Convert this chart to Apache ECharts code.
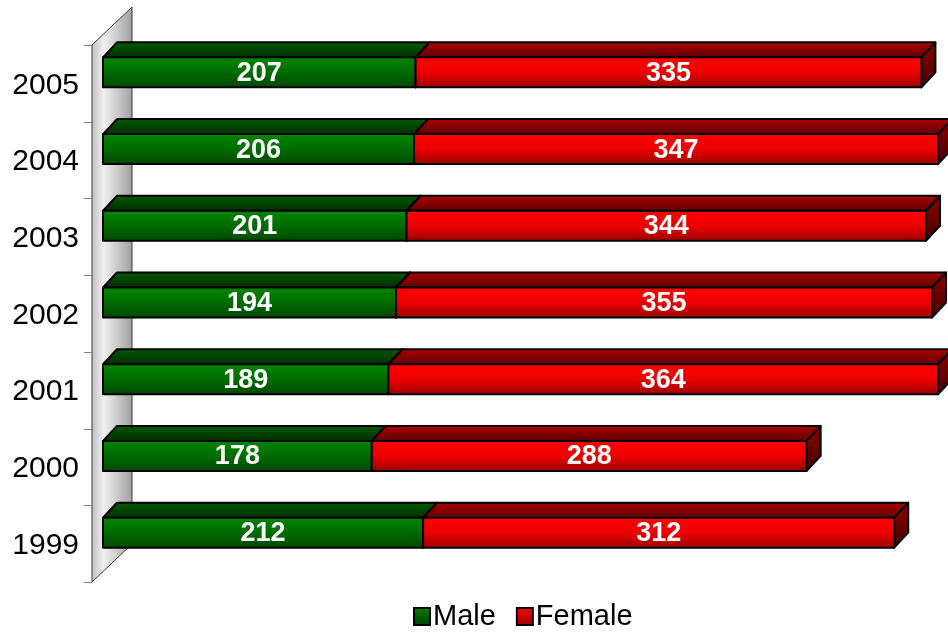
<!DOCTYPE html>
<html>
<head>
<meta charset="utf-8">
<script src="https://cdn.jsdelivr.net/npm/echarts@6/dist/echarts.min.js"></script>
<style>
  html,body{margin:0;padding:0;background:#fff}
  #chart{width:948px;height:633px}
</style>
</head>
<body>
<div id="chart"></div>
<script>
// values
const years = ['1999', '2000', '2001', '2002', '2003', '2004', '2005']
const male = [212, 178, 189, 194, 201, 206, 207]
const female = [312, 288, 364, 355, 344, 347, 335]

const FONT = '"Liberation Sans", Arial, sans-serif'
const grad = (stops) => new echarts.graphic.LinearGradient(0, 0, 0, 1,
  stops.map((c, i) => ({ offset: i / (stops.length - 1), color: c })))

const looks = {
  Male: { front: ['#008600', '#006c00', '#004600'], top: ['#005c00', '#002c00'], side: ['#004a00', '#002200'] },
  Female: { front: ['#ff0000', '#ee0000', '#980000'], top: ['#b00000', '#5c0000'], side: ['#8c0000', '#460000'] }
}

// 3d box for one stacked segment
function barItem(name){
  const look = looks[name]
  return function(params, api){
    const cat = api.value(0)
    const p0 = api.coord([api.value(1), cat])
    const p1 = api.coord([api.value(2), cat])
    const dx = 14, dy = 15, h = 30
    const x0 = p0[0], x1 = p1[0]
    const yT = p0[1] - h / 2, yB = p0[1] + h / 2
    const stroke = { stroke: '#000', lineWidth: 2, lineJoin: 'round' }
    return {
      type: 'group',
      children: [
        { type: 'polygon', shape: { points: [[x0, yT], [x0 + dx, yT - dy], [x1 + dx, yT - dy], [x1, yT]] },
          style: Object.assign({ fill: grad(look.top) }, stroke) },
        { type: 'polygon', shape: { points: [[x1, yT], [x1 + dx, yT - dy], [x1 + dx, yB - dy], [x1, yB]] },
          style: Object.assign({ fill: grad(look.side) }, stroke) },
        { type: 'rect', shape: { x: x0, y: yT, width: x1 - x0, height: h },
          style: Object.assign({ fill: grad(look.front) }, stroke) },
        { type: 'text', x: (x0 + x1) / 2, y: p0[1] + 1,
          style: { text: String(api.value(3)), fill: '#fff', font: 'bold 27px ' + FONT,
            align: 'center', verticalAlign: 'middle' } }
      ]
    }
  }
}

// back wall with its ticks
function wallItem(params, api){
  const r = params.coordSys
  const off = 11, wx = 40, wy = 38
  const fx = r.x - off, fTop = r.y + off, fBot = r.y + r.height + off
  const band = r.height / years.length
  const kids = [{
    type: 'polygon',
    shape: { points: [[fx, fTop], [fx + wx, fTop - wy], [fx + wx, fBot - wy], [fx, fBot]] },
    style: {
      fill: new echarts.graphic.LinearGradient(0, 0, 1, 0, [
        { offset: 0, color: '#c0c0c0' }, { offset: 0.3, color: '#f0f0f0' }, { offset: 1, color: '#a0a0a0' }]),
      stroke: '#3a3a3a', lineWidth: 1
    }
  }]
  for(let j = 0; j <= years.length; j++){
    const y = Math.round(fTop + j * band) + 0.5
    kids.push({ type: 'line', shape: { x1: fx - 8, y1: y, x2: fx, y2: y }, style: { stroke: '#808080', lineWidth: 1 } })
  }
  return { type: 'group', children: kids }
}

const maleData = years.map((y, i) => [i, 0, male[i], male[i]])
const femaleData = years.map((y, i) => [i, male[i], male[i] + female[i], female[i]])

const chart = echarts.init(document.getElementById('chart'))
chart.setOption({
  animation: false,
  grid: { left: 103, top: 34, bottom: 62, width: 830.5 },
  xAxis: { type: 'value', min: 0, max: 550, show: false },
  yAxis: {
    type: 'category', data: years,
    axisLine: { show: false }, axisTick: { show: false },
    axisLabel: { color: '#000', fontSize: 30, lineHeight: 26, fontFamily: FONT, margin: 24,
      formatter: (v) => '\n' + v }
  },
  legend: {
    top: 597, left: 408, icon: 'rect', itemWidth: 16, itemHeight: 17, itemGap: 20,
    textStyle: { fontSize: 29, fontFamily: FONT, color: '#000', padding: [0, 0, 0, -2] },
    data: [
      { name: 'Male', itemStyle: { color: grad(['#008000', '#004000']), borderColor: '#000', borderWidth: 2 } },
      { name: 'Female', itemStyle: { color: grad(['#ff0000', '#a00000']), borderColor: '#000', borderWidth: 2 } }
    ]
  },
  series: [
    { type: 'custom', name: 'wall', renderItem: wallItem, data: [[0, 0]], encode: { x: 1, y: 0 }, silent: true, z: 1 },
    { type: 'custom', name: 'Male', renderItem: barItem('Male'), data: maleData,
      encode: { x: [1, 2], y: 0 }, itemStyle: { color: '#007000' }, z: 2 },
    { type: 'custom', name: 'Female', renderItem: barItem('Female'), data: femaleData,
      encode: { x: [1, 2], y: 0 }, itemStyle: { color: '#e00000' }, z: 3 }
  ]
})
</script>
</body>
</html>
